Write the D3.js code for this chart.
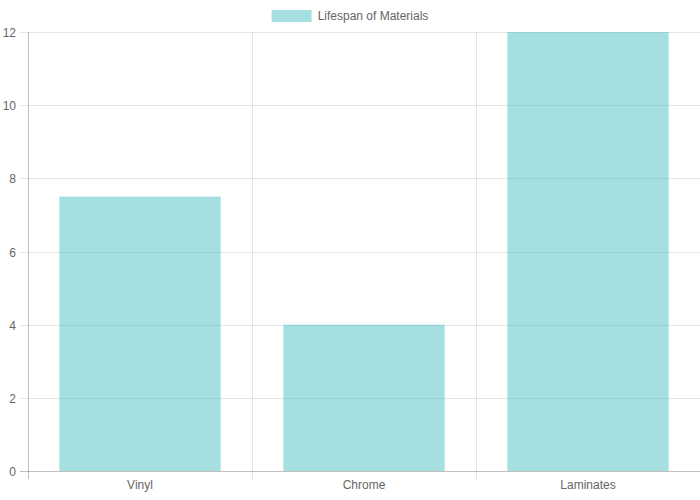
<!DOCTYPE html>
<html>
<head>
<meta charset="utf-8">
<script src="https://cdn.jsdelivr.net/npm/d3@7"></script>
<style>
  body { margin: 0; background: #fff; }
  svg text { font-family: "Liberation Sans", Arial, Helvetica, sans-serif; fill: #666; font-size: 12px; }
</style>
</head>
<body>
<div id="chart"></div>
<script>
const categories = ["Vinyl", "Chrome", "Laminates"];
const lifespan = [7.5, 4, 12];
const yTicks = [0, 2, 4, 6, 8, 10, 12];
const seriesName = "Lifespan of Materials";

const width = 700, height = 500;
const margin = { top: 32, right: 0, bottom: 29, left: 28 };

const svg = d3.select("#chart").append("svg")
    .attr("width", width)
    .attr("height", height);

const x = d3.scaleBand()
    .domain(categories)
    .range([margin.left, width - margin.right])
    .paddingInner(0)
    .paddingOuter(0);

const y = d3.scaleLinear()
    .domain([0, 12])
    .range([height - margin.bottom, margin.top]);

const gridColor = "rgba(0,0,0,0.1)";

// horizontal grid + y ticks
const yg = svg.append("g");
yTicks.forEach(t => {
    const yy = Math.round(y(t)) + 0.5;
    yg.append("line")
        .attr("x1", margin.left - 8).attr("x2", width - margin.right)
        .attr("y1", yy).attr("y2", yy)
        .attr("stroke", t === 0 ? "rgba(0,0,0,0.25)" : gridColor);
    yg.append("text")
        .attr("x", margin.left - 12).attr("y", yy)
        .attr("dy", "0.35em")
        .attr("text-anchor", "end")
        .text(t);
});

// vertical grid lines at category boundaries
const bounds = categories.map(c => x(c)).concat([x.range()[1]]);
bounds.forEach((b, i) => {
    const xx = Math.round(b) + 0.5;
    svg.append("line")
        .attr("x1", xx).attr("x2", xx)
        .attr("y1", margin.top).attr("y2", height - margin.bottom + 8)
        .attr("stroke", i === 0 ? "rgba(0,0,0,0.25)" : gridColor);
});

// bars
const barW = x.bandwidth() * 0.72;
svg.append("g").selectAll("rect")
    .data(lifespan)
    .join("rect")
    .attr("x", (d, i) => x(categories[i]) + (x.bandwidth() - barW) / 2)
    .attr("y", d => y(d))
    .attr("width", barW)
    .attr("height", d => y(0) - y(d))
    .attr("fill", "rgba(75,192,192,0.5)");

// x labels
svg.append("g").selectAll("text")
    .data(categories)
    .join("text")
    .attr("x", d => x(d) + x.bandwidth() / 2)
    .attr("y", height - margin.bottom + 18)
    .attr("text-anchor", "middle")
    .text(d => d);

// legend, centred as box + gap + label
const legend = svg.append("g");
const lw = 40, gap = 6;
const label = legend.append("text")
    .attr("y", 16)
    .attr("dy", "0.35em")
    .text(seriesName);
const textW = label.node().getComputedTextLength();
const lx = (width - (lw + gap + textW)) / 2;
label.attr("x", lx + lw + gap);
legend.append("rect")
    .attr("x", lx).attr("y", 10)
    .attr("width", lw).attr("height", 12)
    .attr("fill", "rgba(75,192,192,0.5)");
</script>
</body>
</html>
